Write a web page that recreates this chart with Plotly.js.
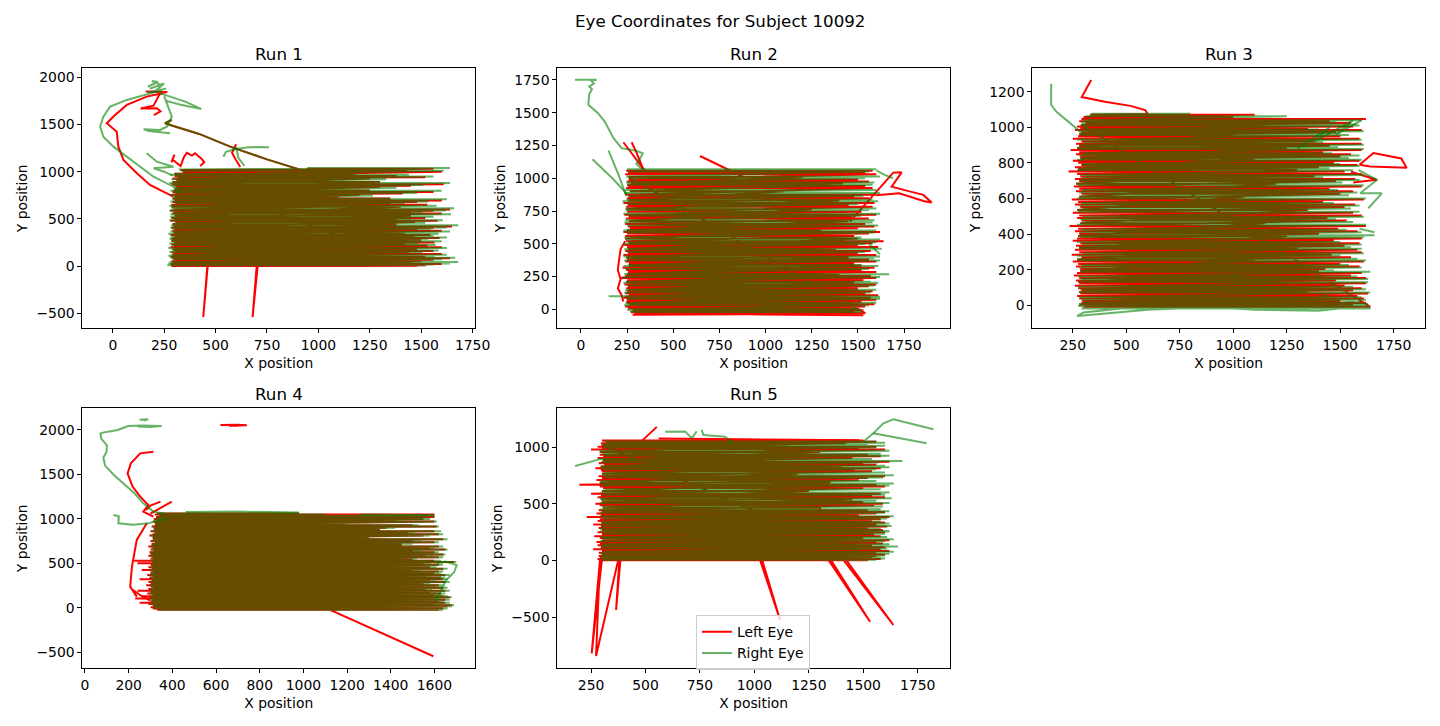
<!DOCTYPE html>
<html>
<head>
<meta charset="utf-8">
<script src="https://cdn.plot.ly/plotly-3.0.1.min.js"></script>
<style>html,body{margin:0;padding:0;background:#fff}#chart{width:1440px;height:726px}</style>
</head>
<body>
<div id="chart"></div>
<script>
// Eye coordinates, subject 10092. Each run = wandering lead-in pieces (null = gap),
// then reading sweeps (line level, start x, end x per eye), shorter regression
// sweeps made by both eyes, then tail pieces.

// ---------- Run 1 ----------
var run1LeftLeadX = [160,265,230,214,198,135,215,232,200, null,
  240,165,68,11,-29,19,27,52,117,181,263,295, null,
  285,300,290,330,345,360,385,400,430,445,425, null,
  600,580,600,620, null,
  287,254,279,420,571,750,943];
var run1LeftLeadY = [1850,1845,1830,1760,1700,1670,1672,1640,1600, null,
  1830,1795,1707,1601,1513,1424,1265,1124,983,859,771,735, null,
  1100,1180,1130,1060,1150,1200,1170,1195,1140,1100,1060, null,
  1290,1200,1120,1050, null,
  1550,1513,1495,1400,1265,1130,1000];
var run1LeftTailX = [700,680,705,460,440,462];
var run1LeftTailY = [5,-540,10,5,-540,10];
var run1RightLeadX = [170,220,190,235,180,250,210,260,170,240, null,
  230,290,350,430,330,260, null,
  200,130,68,-13,-46,-62,-46,3,68,133,198,295,327, null,
  250,270,287,263,230,150,175,279, null,
  165,214,295,198,250,290, null,
  538,550,600,650,705,760, null,
  600,610,640, null,
  287,254,279,420,571,750,943];
var run1RightLeadY = [1900,1950,1960,1920,1880,1935,1860,1880,1840,1850, null,
  1830,1790,1745,1665,1710,1750, null,
  1840,1800,1760,1689,1583,1477,1371,1265,1159,1053,947,841,771, null,
  1800,1690,1583,1477,1442,1450,1430,1407, null,
  1195,1106,1053,1036,1000,960, null,
  1159,1210,1240,1255,1262,1258, null,
  1260,1150,1060, null,
  1550,1513,1495,1400,1265,1130,1000];
var run1RightTailX = [];
var run1RightTailY = [];
var run1LeftLines = [1030,1018,1000, 955,940,928, 868,852,838, 785,770,755, 695,678,662,650,
  600,585,570,556, 510,494,480,466, 420,405,390,374, 330,312,298,282, 250,232,218,200,
  175,160,145,128, 100,82,66,50, 35,22,10,0];
var run1RightLines = [1040,1024,1010, 968,948,920, 880,860,830, 798,776,748, 708,684,668,640,
  612,590,562,548, 522,500,486,458, 432,410,396,366, 342,318,304,290, 262,238,224,192,
  186,166,150,120, 110,88,72,42, 44,28,16,8];
var run1LeftStart = [950,330,340, 300,315,290, 285,300,310, 290,305,285, 300,290,310,285,
  295,280,300,290, 285,300,280,305, 295,285,300,290, 280,300,290,285, 300,285,295,280,
  290,300,285,295, 280,290,300,285, 290,280,300,285];
var run1LeftEnd = [1560,1430,1600, 1380,1520,1250, 1610,1450,1300, 1560,1410,1200, 1600,1480,1350,1530,
  1640,1560,1450,1600, 1520,1380,1580,1470, 1650,1560,1480,1600, 1545,1470,1590,1500, 1565,1420,1530,1600,
  1480,1560,1440,1600, 1520,1640,1560,1500, 1450,1600,1520,1480];
var run1RightStart = [950,320,330, 280,305,285, 275,290,300, 280,295,280, 290,280,300,275,
  285,275,290,280, 280,290,275,300, 285,280,290,280, 270,290,280,275, 290,275,285,270,
  280,290,275,285, 270,280,290,275, 280,270,290,265];
var run1RightEnd = [1640,1500,1610, 1440,1560,1330, 1640,1510,1380, 1600,1480,1265, 1625,1535,1420,1575,
  1660,1620,1505,1645, 1560,1450,1605,1520, 1680,1625,1545,1640, 1585,1560,1625,1535, 1600,1485,1570,1625,
  1545,1585,1505,1625, 1565,1665,1600,1535, 1680,1640,1560,1530];
var run1RegLines = [978,910,890,818,800,735,715,628,533,443,352,266,188,114];
var run1RegStart = [300,310,290,305,295,300,290,285,300,290,295,285,300,290];
var run1RegEnd = [1180,1050,1300,900,1250,1100,1350,1400,1450,1380,1420,1500,1350,1450];

// ---------- Run 2 ----------
var run2LeftLeadX = [230,290,330,350, null, 275,300,340, null,
  645,760,880,950,1010,900,1000, null,
  240,215,205,200,215,200,220,230, null];
var run2LeftLeadY = [1275,1160,1080,1050, null, 1275,1200,1060, null,
  1170,1090,1010,1000,995,1005,1010, null,
  520,460,360,300,230,160,110,60, null];
var run2LeftTailX = [null, 1457,1540,1692,1737,1683,1780,1855,1900,1860,1724,1600, null, 280,900,1530];
var run2LeftTailY = [null, 669,800,1043,1045,936,900,873,815,825,885,870, null, -42,-38,-46];
var run2RightLeadX = [-32,85,55,70,45,60,45,40,90,130,175,220,300,335,320,300,330, null,
  63,170,250, null, 150,200,245, null];
var run2RightLeadY = [1752,1752,1746,1722,1700,1680,1640,1560,1500,1430,1310,1230,1210,1190,1150,1110,1070, null,
  1145,1000,880, null, 1210,1040,870, null];
var run2RightTailX = [null, 1600,1640,1690, null, 1560,1620];
var run2RightTailY = [null, 1060,1030,1000, null, 500,420];
var run2LeftLines = [1058,1045,1030, 990,975,960, 940,925, 875,860,848, 812,796,782, 745,722,707,692,
  650,632,618, 590,578,560, 520,505,490,476, 445,430,415, 380,365,350, 318,300,285,
  255,238,222, 190,175,160, 138,122,108, 88,72,58, 38,22,8, -8,-22,-30];
var run2RightLines = [1068,1052,1014, 1000,968,952, 950,910, 888,866,836, 824,804,770, 758,730,714,680,
  662,640,606, 602,586,548, 532,512,498,462, 458,438,402, 392,372,338, 330,308,272,
  268,246,210, 202,182,148, 150,128,96, 100,80,46, 50,30,-4, 2,-14,-20];
var run2LeftStart = [245,255,240, 260,250,270, 255,245, 240,260,250, 230,255,245, 250,235,260,245,
  240,255,265, 230,250,240, 245,260,235,250, 240,255,230, 250,240,260, 225,245,255,
  240,215,250, 235,255,245, 250,240,260, 230,250,245, 260,240,255, 280,270,290];
var run2LeftEnd = [1580,1540,1600, 1500,1560,1420, 1540,1580, 1600,1480,1560, 1590,1450,1580, 1520,1600,1470,1560,
  1540,1590,1500, 1620,1560,1480, 1640,1580,1500,1610, 1570,1500,1600, 1560,1600,1480, 1590,1520,1600,
  1570,1600,1530, 1600,1560,1500, 1580,1540,1610, 1570,1600,1520, 1590,1540,1500, 1530,1480,1540];
var run2RightStart = [250,260,245, 255,245,265, 250,240, 235,255,245, 225,250,240, 245,230,255,240,
  235,250,260, 230,245,235, 240,255,230,245, 235,250,230, 245,235,255, 230,240,250,
  235,225,245, 230,250,240, 245,235,255, 150,245,240, 255,235,250, 270,265,285];
var run2RightEnd = [1600,1560,1620, 1540,1590,1480, 1580,1600, 1620,1530,1580, 1610,1500,1600, 1560,1620,1520,1590,
  1580,1610,1540, 1600,1590,1520, 1620,1600,1540,1630, 1600,1540,1620, 1590,1620,1520, 1610,1560,1620,
  1670,1620,1570, 1610,1590,1540, 1600,1570,1620, 1590,1620,1560, 1600,1560,1520, 1500,1460,1520];
var run2RegLines = [1010,950,900,830,764,671,604,540,460,398,334,270,206,149,98,48];
var run2RegStart = [260,250,265,255,245,260,250,240,255,245,260,250,245,255,240,250];
var run2RegEnd = [1200,1350,1100,1400,1250,1450,1300,1500,1380,1450,1520,1400,1480,1500,1420,1480];

// ---------- Run 3 ----------
var run3LeftLeadX = [336,292,400,520,588,600];
var run3LeftLeadY = [1265,1170,1143,1120,1097,1075];
var run3LeftTailX = [null, 1550,1670,1560, null, 1590,1655,1785,1810,1640,1590];
var run3LeftTailY = [null, 750,705,690, null, 790,855,825,772,780,790];
var run3RightLeadX = [149,149,175,276,300];
var run3RightLeadY = [1245,1125,1085,985,960];
var run3RightTailX = [1630,1400,1100,900,600,400,270,300,500,800,1200,1500,1630, null,
  1300,1450,1380,1560,1480,1600, null, 1585,1671,1593,1694,1631, null, 1590,1660];
var run3RightTailY = [0,-30,-25,-10,-25,-45,-60,-40,-15,5,-5,-15,0, null,
  880,1000,920,1040,960,1040, null, 760,704,629,629,545, null, 430,410];
var run3LeftLines = [1070,1058,1046,1034,1024, 1004,994,984,972, 950,936,922,908,896, 872,860,848,836,
  812,800,788,776, 752,738,724,710,698, 668,654,640,626, 594,580,566,552, 520,504,490,476,
  446,430,416,402, 376,362,348,334, 312,298,284,270, 246,232,218,204, 182,168,154,140,
  124,110,96,84, 66,52,38,24, 14,4,-8];
var run3RightLines = [1076,1062,1040,1028,1016, 1010,988,978,964, 956,930,916,902,888, 878,854,842,828,
  818,794,782,768, 758,732,718,704,690, 674,648,634,618, 600,574,560,544, 526,498,484,468,
  452,424,410,394, 382,356,342,326, 318,292,278,262, 252,226,212,196, 188,162,148,132,
  130,104,90,76, 72,46,32,16, 8,-4,-18];
var run3LeftStart = [330,300,290,280,310, 270,285,260,290, 275,250,290,265,280, 240,280,265,285,
  250,275,290,260, 230,270,285,260,280, 255,280,265,290, 245,275,260,285, 250,280,270,290,
  235,275,260,280, 270,250,285,265, 260,280,245,290, 250,275,265,285, 270,255,280,265,
  280,260,275,290, 285,270,280,295, 290,280,300];
var run3LeftEnd = [1100,1000,1620,1450,1550, 1560,1350,1600,1480, 1500,1590,1380,1600,1450, 1600,1420,1550,1500,
  1590,1470,1580,1400, 1520,1600,1380,1570,1480, 1600,1450,1560,1500, 1610,1420,1570,1520, 1560,1600,1440,1530,
  1620,1490,1580,1400, 1600,1470,1590,1520, 1580,1600,1460,1550, 1610,1500,1590,1430, 1600,1550,1620,1480,
  1620,1520,1600,1560, 1630,1580,1610,1500, 1620,1560,1640];
var run3RightStart = [340,310,300,290,300, 285,295,275,300, 290,270,300,280,290, 275,295,280,300,
  270,290,300,280, 270,285,295,280,290, 275,290,280,300, 270,290,280,295, 275,295,285,300,
  270,290,280,295, 285,270,295,280, 280,295,270,300, 275,290,280,295, 285,275,290,280,
  290,275,285,300, 290,280,290,300, 280,275,290];
var run3RightEnd = [800,1250,1600,1480,1580, 1590,1400,1610,1500, 1540,1600,1420,1610,1490, 1610,1460,1590,1540,
  1600,1500,1590,1450, 1560,1610,1420,1590,1510, 1610,1490,1580,1540, 1620,1470,1590,1550, 1590,1610,1480,1560,
  1620,1530,1600,1660, 1610,1500,1600,1550, 1600,1610,1500,1580, 1620,1540,1600,1470, 1640,1580,1630,1510,
  1630,1560,1620,1590, 1640,1600,1620,1540, 1630,1600,1640];
var run3RegLines = [1014,961,884,824,764,683,610,536,461,389,323,258,193,132,75];
var run3RegStart = [290,280,270,285,275,265,280,270,285,275,280,270,285,275,280];
var run3RegEnd = [1150,1000,1250,1100,1300,1200,1050,1350,1150,1250,1300,1100,1400,1200,1350];

// ---------- Run 4 ----------
var run4LeftLeadX = [620,700,741,660,700, null,
  313,253,210,195,218,253,290,267,313, null,
  346,300,280, null, 397,330,300, null,
  283,237,215,207,237,220,260,300, null];
var run4LeftLeadY = [2055,2060,2052,2048,2045, null,
  1756,1737,1625,1512,1363,1250,1156,1082,1025, null,
  1194,1150,1100, null, 1194,1100,1060, null,
  950,763,463,238,125,200,130,80, null];
var run4LeftTailX = [1100,1120,1595];
var run4LeftTailY = [0,-20,-545];
var run4RightLeadX = [250,290,270, null,
  70,150,198,260,351,300,240, null,
  70,75,100,99,84,92,130,191,230,267,313,360, null,
  130,155,153,221,290,330,370, null];
var run4RightLeadY = [2115,2120,2105, null,
  1965,2000,2045,2050,2045,2035,2040, null,
  1965,1900,1830,1756,1690,1600,1500,1370,1280,1175,1082,1060, null,
  1044,1030,950,935,950,980,1000, null];
var run4RightTailX = [null, 1260,1600, null, 1611,1650,1702,1690,1650,1640,1620,1600, null, 460,700,980];
var run4RightTailY = [null, 1050,1040, null, 500,520,481,400,300,237,150,80, null, 1078,1082,1072];
var run4Lines = [1062,1050,1036,1022, 1000,985,970, 930,915,900, 860,845,828,812, 770,752,738,722,
  690,672,655,640,624, 600,585,570,555, 530,515,500,485, 455,440,425,408, 385,370,355,340,
  320,305,290,275, 255,240,225,212, 192,178,162,148, 130,118,104,90, 72,58,44,30, 18,6,-8,-22];
var run4LeftStart = [330,320,340,325, 315,330,310, 320,305,315, 300,320,310,295, 310,300,320,305,
  290,310,300,315,295, 305,290,310,300, 225,310,240,300, 290,305,260,310, 300,285,310,295,
  250,305,290,300, 280,300,310,290, 240,300,285,310, 260,295,230,305, 300,250,290,310, 320,300,310,330];
var run4LeftEnd = [980,1600,1300,1600, 1550,1420,1600, 1500,1610,1380, 1600,1480,1620,1550, 1640,1500,1600,1450,
  1620,1580,1650,1500,1600, 1640,1560,1620,1480, 1600,1690,1550,1620, 1580,1640,1500,1620, 1600,1650,1560,1630,
  1640,1580,1650,1550, 1620,1600,1640,1560, 1650,1580,1630,1600, 1640,1670,1600,1650, 1620,1650,1600,1680, 1660,1600,1640,1620];
var run4RightStart = [340,330,345,335, 320,335,315, 325,310,320, 305,325,315,300, 315,305,325,310,
  300,315,305,320,300, 310,300,315,305, 300,315,305,310, 300,310,295,315, 305,295,315,300,
  300,310,300,305, 295,305,315,300, 300,305,295,315, 300,305,295,310, 305,300,300,315, 330,310,320,340];
var run4RightEnd = [980,1100,1600,1560, 1580,1450,1610, 1530,1620,1420, 1630,1510,1640,1580, 1660,1540,1620,1500,
  1640,1600,1660,1540,1620, 1650,1590,1640,1520, 1630,1700,1580,1640, 1610,1660,1540,1640, 1630,1670,1590,1650,
  1660,1610,1670,1580, 1640,1630,1660,1590, 1670,1610,1650,1630, 1660,1680,1630,1670, 1640,1670,1630,1690, 1680,1630,1660,1640];
var run4RegLines = [1011,950,880,791,706,612,542,470,396,330,265,202,139,81];
var run4RegStart = [330,320,315,310,305,300,310,305,300,310,305,300,310,305];
var run4RegEnd = [1000,1200,1350,1300,1450,1400,1500,1450,1550,1500,1520,1480,1560,1540];

// ---------- Run 5 ----------
var run5LeftLeadX = [552,480, null, 560,1000,1480, null];
var run5LeftLeadY = [1180,1050, null, 1078,1068,1062, null];
var run5LeftTailX = [1409,1638,1420,1340,1531,1350,1026,1118,1035,380,365,385,375,273,291,253,300];
var run5LeftTailY = [5,-568,10,5,-539,10,5,-524,10,5,-436,10,5,-842,5,-818,10];
var run5RightLeadX = [177,276,300, null, 590,682,712,735, null, 758,766,865,904, null];
var run5RightLeadY = [835,888,900, null, 1138,1140,1080,1140, null, 1153,1109,1094,1035, null];
var run5RightTailX = [null, 1500,1546,1592,1638,1822, null, 1546,1791];
var run5RightTailY = [null, 1049,1123,1212,1247,1159, null, 1123,1035];
var run5LeftLines = [1060,1048,1036, 1005,992,980, 935,920,905, 872,860,846, 815,800,788, 745,728,712,
  670,655,640, 590,575,560, 518,502,488, 445,430,415,400, 385,365,350,336, 318,300,288,270,
  250,232,215,200, 180,165,150,136, 118,100,84,70, 55,40,26,14,4];
var run5RightLines = [1052,1040,1024, 1014,998,970, 944,926,896, 880,866,836, 824,806,778, 754,734,702,
  680,662,630, 600,582,550, 528,508,478, 454,436,422,392, 392,372,344,328, 326,306,282,262,
  258,238,208,192, 188,170,144,128, 124,106,78,62, 60,46,30,18,8];
var run5LeftStart = [300,320,295, 280,300,250, 290,305,280, 300,285,310, 270,295,300, 285,300,275,
  196,290,305, 250,295,280, 300,270,290, 285,300,275,295, 230,290,280,300, 260,295,285,300,
  280,300,265,290, 300,275,290,280, 295,260,300,285, 300,285,290,280,300];
var run5LeftEnd = [1500,1560,1420, 1560,1480,1600, 1520,1580,1450, 1620,1500,1560, 1580,1460,1540, 1600,1520,1480,
  1560,1600,1500, 1580,1540,1600, 1500,1590,1550, 1520,1600,1560,1480, 1620,1580,1540,1600, 1560,1610,1520,1590,
  1600,1550,1580,1500, 1620,1560,1590,1540, 1600,1580,1620,1560, 1600,1560,1540,1580,1520];
var run5RightStart = [310,325,305, 300,310,290, 300,310,295, 305,295,315, 290,305,310, 300,310,295,
  290,300,310, 295,305,290, 305,290,300, 295,305,290,300, 290,300,295,305, 295,300,290,305,
  290,305,295,300, 305,290,300,295, 300,295,305,290, 305,295,300,290,305];
var run5RightEnd = [1560,1600,1520, 1600,1560,1620, 1580,1620,1540, 1680,1570,1600, 1620,1560,1600, 1640,1590,1560,
  1640,1620,1580, 1620,1600,1630, 1560,1620,1590, 1580,1620,1600,1550, 1640,1610,1580,1620, 1600,1630,1580,1620,
  1620,1600,1610,1560, 1640,1600,1620,1580, 1660,1610,1640,1600, 1620,1600,1580,1600,1560];
var run5RegLines = [1020,958,888,830,766,690,615,540,466];
var run5RegStart = [300,290,305,295,300,290,300,295,305];
var run5RegEnd = [1150,1300,1050,1400,1200,1350,1250,1450,1300];

// lead-in, then each sweep set (start -> end on each line level), then tail
function buildPath(leadX, leadY, sweepSets, tailX, tailY) {
  var x = leadX.slice(), y = leadY.slice();
  sweepSets.forEach(function (s) {
    for (var i = 0; i < s[0].length; i++) {
      x.push(s[1][i], s[2][i]);
      y.push(s[0][i], s[0][i]);
    }
  });
  return {x: x.concat(tailX), y: y.concat(tailY)};
}

var runs = [
  {left: buildPath(run1LeftLeadX, run1LeftLeadY, [[run1LeftLines, run1LeftStart, run1LeftEnd], [run1RegLines, run1RegStart, run1RegEnd]], run1LeftTailX, run1LeftTailY),
   right: buildPath(run1RightLeadX, run1RightLeadY, [[run1RightLines, run1RightStart, run1RightEnd], [run1RegLines, run1RegStart, run1RegEnd]], run1RightTailX, run1RightTailY)},
  {left: buildPath(run2LeftLeadX, run2LeftLeadY, [[run2LeftLines, run2LeftStart, run2LeftEnd], [run2RegLines, run2RegStart, run2RegEnd]], run2LeftTailX, run2LeftTailY),
   right: buildPath(run2RightLeadX, run2RightLeadY, [[run2RightLines, run2RightStart, run2RightEnd], [run2RegLines, run2RegStart, run2RegEnd]], run2RightTailX, run2RightTailY)},
  {left: buildPath(run3LeftLeadX, run3LeftLeadY, [[run3LeftLines, run3LeftStart, run3LeftEnd], [run3RegLines, run3RegStart, run3RegEnd]], run3LeftTailX, run3LeftTailY),
   right: buildPath(run3RightLeadX, run3RightLeadY, [[run3RightLines, run3RightStart, run3RightEnd], [run3RegLines, run3RegStart, run3RegEnd]], run3RightTailX, run3RightTailY)},
  {left: buildPath(run4LeftLeadX, run4LeftLeadY, [[run4Lines, run4LeftStart, run4LeftEnd], [run4RegLines, run4RegStart, run4RegEnd]], run4LeftTailX, run4LeftTailY),
   right: buildPath(run4RightLeadX, run4RightLeadY, [[run4Lines, run4RightStart, run4RightEnd], [run4RegLines, run4RegStart, run4RegEnd]], run4RightTailX, run4RightTailY)},
  {left: buildPath(run5LeftLeadX, run5LeftLeadY, [[run5LeftLines, run5LeftStart, run5LeftEnd], [run5RegLines, run5RegStart, run5RegEnd]], run5LeftTailX, run5LeftTailY),
   right: buildPath(run5RightLeadX, run5RightLeadY, [[run5RightLines, run5RightStart, run5RightEnd], [run5RegLines, run5RegStart, run5RegEnd]], run5RightTailX, run5RightTailY)}
];

var FONT = 'DejaVu Sans, sans-serif';
var runTitles = ['Run 1', 'Run 2', 'Run 3', 'Run 4', 'Run 5'];
var xRanges = [[-148, 1762], [-128, 1999], [61, 1896], [-12, 1786], [95, 1898]];
var yRanges = [[-659, 2095], [-145, 1839], [-129, 1331], [-680, 2244], [-950, 1344]];
var xSteps = [250, 250, 250, 200, 250];
var ySteps = [500, 250, 200, 500, 500];
var cols = [[0.0572, 0.3299], [0.3870, 0.6597], [0.7169, 0.9896]];
var rows = [[0.5478, 0.9059], [0.0795, 0.4376]];
var cells = [[0, 0], [0, 1], [0, 2], [1, 0], [1, 1]];

var data = [];
var layout = {
  width: 1440, height: 726,
  margin: {l: 0, r: 0, t: 0, b: 0},
  paper_bgcolor: '#fff', plot_bgcolor: '#fff',
  font: {family: FONT, size: 14, color: '#000'},
  hovermode: false,
  showlegend: true,
  legend: {x: 0.4833, y: 0.1525, xanchor: 'left', yanchor: 'top',
    bgcolor: 'rgba(255,255,255,0.8)', bordercolor: '#cccccc', borderwidth: 1,
    font: {family: FONT, size: 13.9, color: '#000'}, tracegroupgap: 0},
  annotations: [{text: 'Eye Coordinates for Subject 10092', x: 0.5, y: 0.9711,
    xref: 'paper', yref: 'paper', xanchor: 'center', yanchor: 'middle', showarrow: false,
    font: {family: FONT, size: 16.7, color: '#000'}}]
};

runs.forEach(function (run, i) {
  var n = i === 0 ? '' : String(i + 1);
  var row = rows[cells[i][0]], col = cols[cells[i][1]];
  var last = i === runs.length - 1;
  data.push({x: run.left.x, y: run.left.y, xaxis: 'x' + n, yaxis: 'y' + n,
    type: 'scatter', mode: 'lines', name: 'Left Eye', showlegend: last,
    line: {color: '#ff0000', width: 2}});
  data.push({x: run.right.x, y: run.right.y, xaxis: 'x' + n, yaxis: 'y' + n,
    type: 'scatter', mode: 'lines', name: 'Right Eye', showlegend: last,
    line: {color: 'rgba(0,128,0,0.6)', width: 2}});
  var common = {showgrid: false, zeroline: false, showline: true, mirror: true,
    linecolor: '#000', linewidth: 1, ticks: 'outside', ticklen: 4, tickwidth: 1, tickcolor: '#000',
    tickfont: {family: FONT, size: 13.9, color: '#000'}};
  layout['xaxis' + n] = Object.assign({}, common, {domain: col, range: xRanges[i], anchor: 'y' + n,
    tick0: 0, dtick: xSteps[i],
    title: {text: 'X position', font: {family: FONT, size: 13.9, color: '#000'}, standoff: 6}});
  layout['yaxis' + n] = Object.assign({}, common, {domain: row, range: yRanges[i], anchor: 'x' + n,
    tick0: 0, dtick: ySteps[i],
    title: {text: 'Y position', font: {family: FONT, size: 13.9, color: '#000'}, standoff: 5}});
  layout.annotations.push({text: runTitles[i], x: (col[0] + col[1]) / 2, y: row[1],
    xref: 'paper', yref: 'paper', xanchor: 'center', yanchor: 'bottom', yshift: 2, showarrow: false,
    font: {family: FONT, size: 16.7, color: '#000'}});
});

Plotly.newPlot('chart', data, layout, {displayModeBar: false, staticPlot: true});
</script>
</body>
</html>
